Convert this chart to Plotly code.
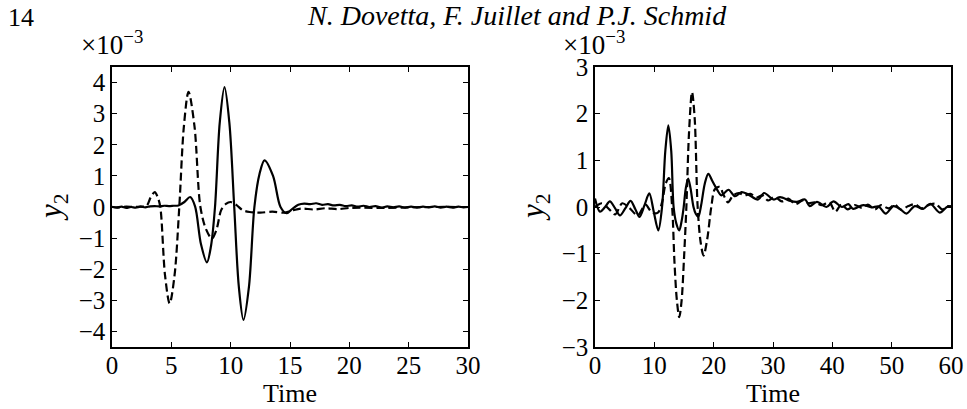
import plotly.graph_objects as go

# ---- Left panel: sensor output y2 (x 1e-3) over Time 0..30 ----
left_t_solid = [0, 0.4, 0.8, 1.2, 1.6, 2.0, 2.4, 2.8, 3.2, 3.6, 4.0, 4.4, 4.8, 5.2, 5.6,
                6.1, 6.59, 7.0, 7.5, 8.0, 8.34, 8.68, 9.08, 9.48, 9.89, 10.3, 10.69,
                11.08, 11.54, 12.0, 12.43, 12.85, 13.57, 14.2, 14.7, 15.2, 15.7, 16.2,
                16.7, 17.2, 17.7, 18.2, 18.7, 19.2, 19.7, 20.2, 20.7, 21.2, 21.7, 22.2,
                22.7, 23.2, 23.7, 24.2, 24.7, 25.2, 25.7, 26.2, 26.7, 27.2, 27.7, 28.2,
                28.7, 29.2, 29.6, 30]
left_y_solid = [0.01, -0.02, 0.01, -0.03, 0.0, -0.02, 0.01, -0.01, 0.02, 0.03, 0.02, 0.04,
                0.03, 0.04, 0.05, 0.16, 0.32, 0.02, -1.2, -1.78, -1.26, 0.0, 2.71, 3.85,
                2.71, 0.0, -2.57, -3.63, -2.57, 0.0, 1.06, 1.5, 1.0, 0.0, -0.2, -0.06,
                0.07, 0.11, 0.09, 0.12, 0.07, 0.09, 0.05, 0.07, 0.03, 0.05, 0.01, 0.04,
                0.0, 0.03, -0.02, 0.02, -0.01, 0.02, -0.02, 0.01, -0.02, 0.01, -0.01,
                0.02, -0.02, 0.01, -0.02, 0.01, -0.01, 0.0]

left_t_dash = [0, 0.6, 1.2, 1.8, 2.4, 2.9, 3.25, 3.6, 3.85, 4.07, 4.47, 4.86, 5.27, 5.67,
               6.06, 6.45, 6.95, 7.45, 7.93, 8.42, 8.81, 9.2, 9.6, 10.0, 10.5, 11.0, 11.6,
               12.5, 13.5, 14.6, 15.3, 16.0, 17.0, 18.0, 19.0, 20.0, 21.0, 23.0, 25.0,
               27.0, 30.0]
left_y_dash = [0.0, -0.01, 0.01, 0.0, 0.01, 0.03, 0.3, 0.48, 0.32, 0.0, -2.2, -3.1, -2.2,
               0.0, 2.6, 3.7, 2.6, 0.0, -0.72, -1.01, -0.72, -0.1, 0.1, 0.16, 0.06, -0.1,
               -0.16, -0.18, -0.15, -0.18, -0.1, -0.05, -0.08, -0.04, -0.07, -0.03, -0.02,
               -0.03, -0.01, 0.0, 0.0]

# ---- Right panel: y2 (x 1e-3) over Time 0..60 ----
right_t_solid = [0, 0.84, 1.7, 2.5, 3.4, 4.2, 5.1, 6.0, 6.8, 7.5, 8.35, 9.15, 9.9, 10.67,
                 11.3, 11.85, 12.36, 12.85, 13.25, 13.7, 14.2, 14.6, 14.95, 15.3, 15.7,
                 16.1, 16.6, 17.0, 17.4, 17.9, 18.5, 19.1, 19.8, 20.5, 21.3, 22.5, 23.6,
                 24.7, 25.8, 27.5, 28.5, 30.1, 31.2, 32.9, 34.0, 35.4, 36.2, 37.4, 39.0,
                 40.2, 41.6, 42.7, 43.5, 45.2, 46.6, 47.8, 49.0, 50.3, 51.4, 52.5, 53.9,
                 55.3, 56.5, 58.1, 59.3, 60]
right_y_solid = [0.18, -0.1, 0.0, 0.12, -0.03, -0.18, -0.03, 0.13, -0.05, -0.21, 0.04,
                 0.29, -0.1, -0.5, 0.0, 1.2, 1.75, 1.2, 0.0, -0.35, -0.5, -0.3, 0.0, 0.4,
                 0.61, 0.4, 0.0, -0.15, -0.21, 0.05, 0.5, 0.71, 0.55, 0.39, 0.25, 0.37,
                 0.23, 0.32, 0.27, 0.16, 0.3, 0.16, 0.21, 0.13, 0.11, 0.16, 0.02, 0.11, 0.0,
                 0.12, 0.0, 0.06, -0.04, 0.04, -0.01, 0.01, -0.14, 0.02, -0.04, -0.14,
                 0.02, -0.04, 0.07, -0.12, 0.0, 0.02]

right_t_dash = [0, 1.2, 2.4, 3.4, 4.6, 5.8, 7.2, 8.5, 9.6, 10.6, 11.3, 11.9, 12.45, 13.0,
                13.4, 13.8, 14.2, 14.6, 15.0, 15.4, 15.85, 16.35, 16.8, 17.3, 17.8, 18.3,
                18.9, 19.6, 20.2, 21.0, 21.7, 22.4, 23.3, 24.2, 25.2, 26.2, 27.2, 28.2,
                29.2, 30.3, 31.5, 32.6, 33.8, 35.0, 36.0, 37.0, 38.2, 39.5, 40.5, 41.5,
                42.6, 43.8, 45.0, 46.0, 47.2, 48.2, 49.5, 50.5, 51.6, 52.8, 54.0, 55.0,
                56.2, 57.4, 58.5, 59.5, 60]
right_y_dash = [0.0, 0.08, -0.05, -0.16, 0.08, -0.02, -0.18, 0.05, -0.12, -0.12, 0.1, 0.5,
                0.62, 0.0, -1.2, -2.0, -2.36, -2.0, -1.1, 0.0, 1.6, 2.46, 1.9, 0.0, -0.75,
                -1.04, -0.7, 0.0, 0.38, 0.43, 0.25, 0.1, 0.25, 0.3, 0.25, 0.28, 0.2, 0.25,
                0.14, 0.22, 0.12, 0.18, 0.06, 0.14, 0.08, 0.1, 0.04, 0.1, -0.1, 0.05,
                -0.05, 0.04, -0.02, 0.05, -0.05, 0.04, -0.03, 0.05, -0.06, 0.02, 0.06,
                -0.03, 0.04, 0.07, -0.05, 0.02, 0.0]

left_xticks = [0, 5, 10, 15, 20, 25, 30]
left_yticks = [-4, -3, -2, -1, 0, 1, 2, 3, 4]
right_xticks = [0, 10, 20, 30, 40, 50, 60]
right_yticks = [-3, -2, -1, 0, 1, 2, 3]

W, H = 967, 409
SERIF = "Liberation Serif"
DASH = "8px,4px"

fig = go.Figure()

def add_line(t, y, xa, ya, dash):
    fig.add_trace(go.Scatter(
        x=t, y=y, xaxis=xa, yaxis=ya, mode="lines",
        line=dict(color="black", width=2.2, dash=dash, shape="spline", smoothing=0.9),
        showlegend=False, hoverinfo="skip"))

add_line(left_t_dash, left_y_dash, "x", "y", DASH)
add_line(left_t_solid, left_y_solid, "x", "y", "solid")
add_line(right_t_dash, right_y_dash, "x2", "y2", DASH)
add_line(right_t_solid, right_y_solid, "x2", "y2", "solid")

def px_x(p):
    return p / W

def px_y(p):
    return 1 - p / H

ydom = [px_y(347), px_y(67)]
axis_common = dict(
    showline=True, linecolor="black", linewidth=1.5, mirror="ticks",
    ticks="inside", ticklen=5, tickwidth=1, tickcolor="black",
    showgrid=False, zeroline=False, automargin=False,
    tickfont=dict(family=SERIF, size=25, color="black"),
)
x_extra = dict(ticklabelstandoff=-5)

fig.update_layout(
    template="none",
    width=W, height=H,
    margin=dict(l=0, r=0, t=0, b=0, pad=0),
    paper_bgcolor="white", plot_bgcolor="white",
    xaxis=dict(domain=[px_x(112), px_x(468)], range=[0, 30],
               tickvals=left_xticks, anchor="y", **axis_common, **x_extra),
    yaxis=dict(domain=ydom, range=[-4.5, 4.5], tickvals=left_yticks,
               anchor="x", **axis_common),
    xaxis2=dict(domain=[px_x(595), px_x(951)], range=[0, 60],
                tickvals=right_xticks, anchor="y2", **axis_common, **x_extra),
    yaxis2=dict(domain=ydom, range=[-3, 3], tickvals=right_yticks,
                anchor="x2", **axis_common),
)

def note(text, x, y, size=25, angle=0, italic=False):
    fig.add_annotation(
        text=text, x=px_x(x), y=px_y(y), xref="paper", yref="paper",
        showarrow=False, textangle=angle, xanchor="center", yanchor="middle",
        font=dict(family=SERIF, size=size, color="black",
                  style="italic" if italic else "normal"))

note("14", 21, 17, size=26)
note("N. Dovetta, F. Juillet and P.J. Schmid", 517, 15, size=28, italic=True)
note("×10<sup>−3</sup>", 112, 43, size=27)
note("×10<sup>−3</sup>", 594, 43, size=27)
note("<i>y</i><sub>2</sub>", 53, 207, size=31, angle=-90)
note("<i>y</i><sub>2</sub>", 535, 207, size=31, angle=-90)
note("Time", 290, 393, size=26)
note("Time", 773, 393, size=26)

fig.write_html("out.html")
